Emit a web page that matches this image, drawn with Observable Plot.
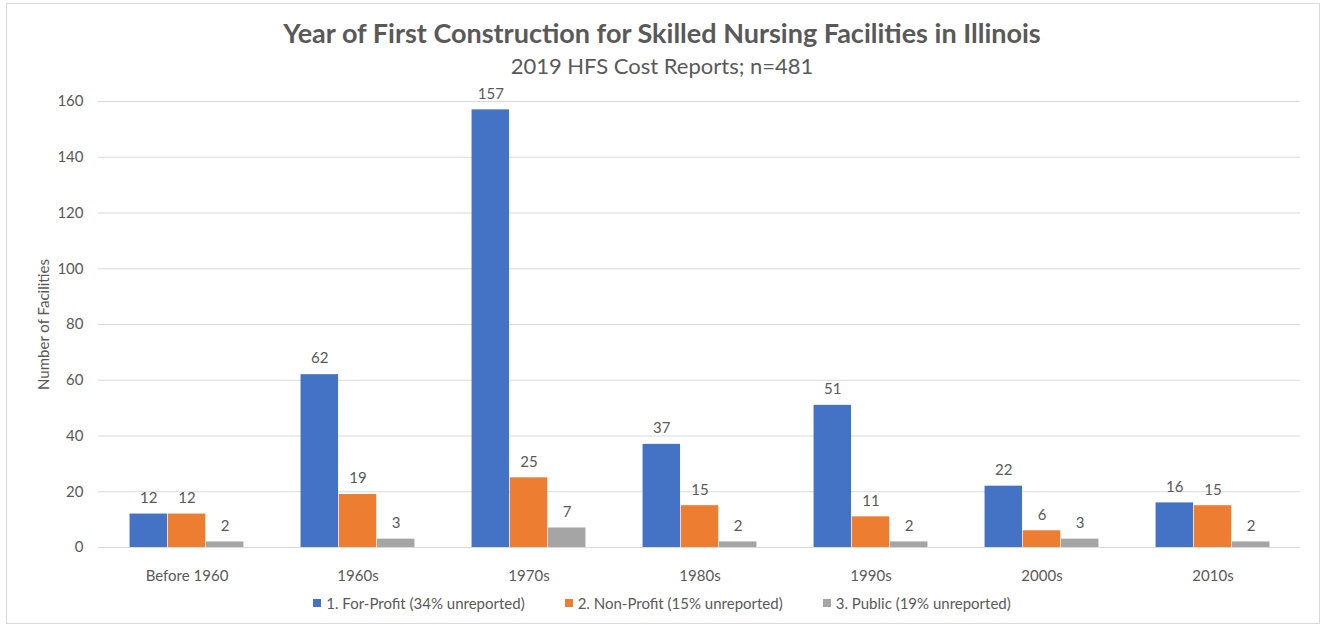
<!DOCTYPE html>
<html>
<head>
<meta charset="utf-8">
<script src="https://cdn.jsdelivr.net/npm/d3@7"></script>
<script src="https://cdn.jsdelivr.net/npm/@observablehq/plot@0.6"></script>
<style>
  html, body { margin: 0; padding: 0; background: #fff; }
  body { width: 1324px; height: 625px; position: relative; overflow: hidden; font-family: Lato, "Open Sans", sans-serif; color: #595959; }
  #frame { position: absolute; left: 6px; top: 3px; width: 1314px; height: 621px; border: 1px solid #d9d9d9; box-sizing: border-box; }
  #title { position: absolute; left: 0; width: 1324px; top: 18px; text-align: center; font-size: 27px; font-weight: bold; line-height: 30px; }
  #subtitle { position: absolute; left: 0; width: 1324px; top: 53px; text-align: center; font-size: 22px; line-height: 26px; }
  #chart { position: absolute; left: 0; top: 85px; }
  #legend { position: absolute; left: 0; width: 1324px; top: 593px; display: flex; justify-content: center; font-size: 15px; line-height: 20px; }
  .item { display: flex; align-items: center; margin: 0 20px; }
  .sw { width: 8px; height: 8px; margin-right: 5px; }
</style>
</head>
<body>
<div id="frame"></div>
<div id="title">Year of First Construction for Skilled Nursing Facilities in Illinois</div>
<div id="subtitle">2019 HFS Cost Reports; n=481</div>
<div id="chart"></div>
<div id="legend"></div>
<script>
const categories = ["Before 1960", "1960s", "1970s", "1980s", "1990s", "2000s", "2010s"];
const seriesNames = ["1. For-Profit (34% unreported)", "2. Non-Profit (15% unreported)", "3. Public (19% unreported)"];
const forProfit = [12, 62, 157, 37, 51, 22, 16];
const nonProfit = [12, 19, 25, 15, 11, 6, 15];
const publicFac = [2, 3, 7, 2, 2, 3, 2];
const yTicks = [0, 20, 40, 60, 80, 100, 120, 140, 160];
const colors = ["#4472C4", "#ED7D31", "#A5A5A5"];

const seriesValues = [forProfit, nonProfit, publicFac];
const data = [];
seriesValues.forEach((vals, s) => {
  vals.forEach((v, i) => data.push({category: categories[i], series: seriesNames[s], value: v}));
});

const W = 1324, mL = 98, mR = 24;
const step = (W - mL - mR) / categories.length;
const barW = step * 0.2225;
const outer = (step - 3 * barW) / 2;

const marks = [Plot.ruleY(yTicks, {stroke: "#d9d9d9", strokeWidth: 1})];
seriesNames.forEach((name, s) => {
  const sub = data.filter(d => d.series === name);
  marks.push(Plot.barY(sub, {
    x: "category", y: "value", fill: colors[s],
    insetLeft: outer + s * barW,
    insetRight: step - outer - (s + 1) * barW
  }));
  marks.push(Plot.text(sub, {
    x: "category", y: "value", text: d => String(d.value),
    dx: (s - 1) * barW, dy: -16, fill: "#595959", fontSize: 15
  }));
});

const chart = Plot.plot({
  width: W,
  height: 500,
  marginLeft: mL,
  marginRight: mR,
  marginTop: 16,
  marginBottom: 38,
  style: {fontFamily: "Lato, 'Open Sans', sans-serif", fontSize: "15px", color: "#595959", background: "transparent"},
  x: {domain: categories, padding: 0, tickSize: 0, tickPadding: 23, label: null},
  y: {domain: [0, 160], ticks: yTicks, tickSize: 0, tickPadding: 15, label: "Number of Facilities", labelAnchor: "center", labelOffset: 60, labelArrow: false},
  marks
});
document.getElementById("chart").appendChild(chart);

const legend = document.getElementById("legend");
seriesNames.forEach((name, s) => {
  const item = document.createElement("div");
  item.className = "item";
  const sw = document.createElement("div");
  sw.className = "sw";
  sw.style.background = colors[s];
  const t = document.createElement("span");
  t.textContent = name;
  item.appendChild(sw);
  item.appendChild(t);
  legend.appendChild(item);
});
</script>
</body>
</html>
